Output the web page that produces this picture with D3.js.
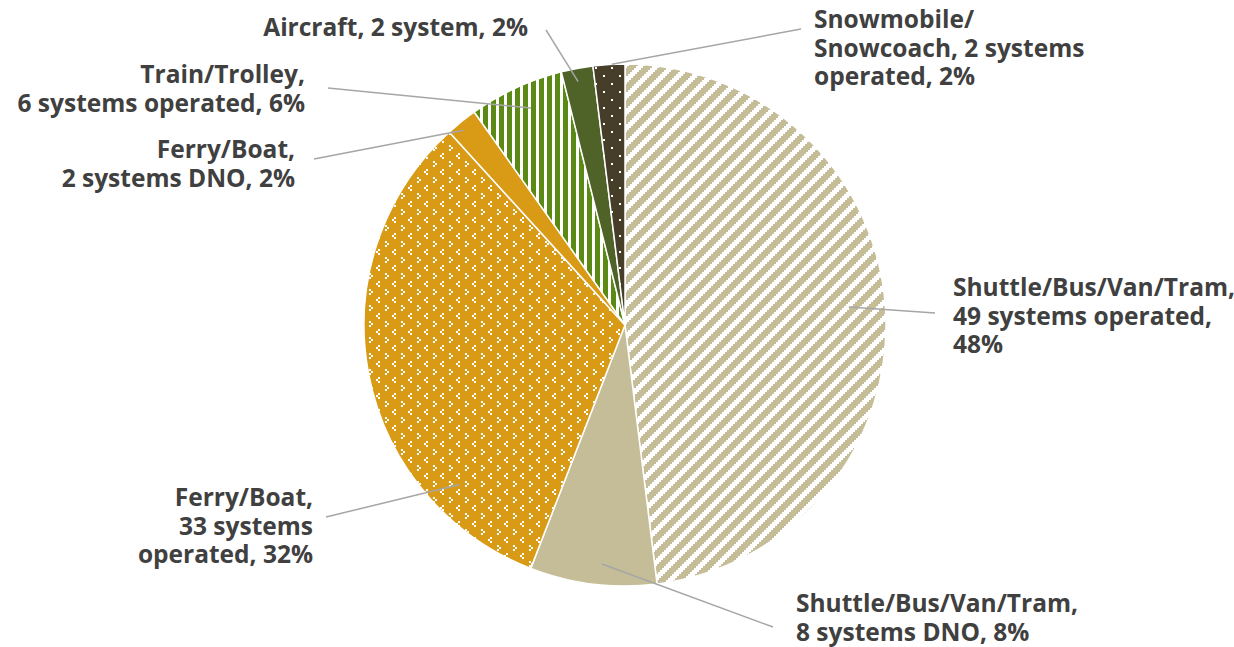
<!DOCTYPE html>
<html>
<head>
<meta charset="utf-8">
<script src="https://cdn.jsdelivr.net/npm/d3@7"></script>
<style>
  html, body { margin: 0; padding: 0; background: #ffffff; }
  svg { display: block; }
  .label { font-family: "Open Sans", "Noto Sans", sans-serif; font-weight: 700; font-size: 24.5px; fill: #404040; }
</style>
</head>
<body>
<svg id="chart" width="1234" height="647"></svg>
<script>
// Transportation systems by mode and operating status
const categories = ["Shuttle/Bus/Van/Tram", "Shuttle/Bus/Van/Tram", "Ferry/Boat", "Ferry/Boat",
                    "Train/Trolley", "Aircraft", "Snowmobile/Snowcoach"];
const statuses   = ["systems operated", "systems DNO", "systems operated", "systems DNO",
                    "systems operated", "system", "systems operated"];
const systems    = [49, 8, 33, 2, 6, 2, 2];

// Fill for each slice (pattern ids defined below)
const fills = ["url(#diag)", "#C4BD97", "url(#divot)", "#D99A16", "url(#vstripe)", "#4F6228", "url(#dots)"];

// Label placement: words per line, anchor, first baseline, leader outer end,
// and the leader's inner end in polar form (degrees clockwise from 12 o'clock, fraction of radius)
const labelLayout = [
  { lines: [4, 3, 1], x: 953, y: 296, anchor: "start", lx: 935, ly: 313, ang: 85.4,  rf: 0.86 },
  { lines: [4, 4],    x: 796, y: 612, anchor: "start", lx: 773, ly: 627, ang: 185.5, rf: 0.92 },
  { lines: [2, 2, 2], x: 313, y: 506, anchor: "end",   lx: 326, ly: 517, ang: 226,   rf: 0.88 },
  { lines: [2, 4],    x: 295, y: 158, anchor: "end",   lx: 314, ly: 159, ang: 320.3, rf: 0.97 },
  { lines: [2, 4],    x: 305, y: 83,  anchor: "end",   lx: 328, ly: 88,  ang: 336.6, rf: 0.906 },
  { lines: [4],       x: 528, y: 36,  anchor: "end",   lx: 546, ly: 30,  ang: 349.1, rf: 0.95 },
  { lines: [1, 3, 2], x: 814, y: 28,  anchor: "start", lx: 801, ly: 29,  ang: 357.1, rf: 1.0 }
];

const cx = 625, cy = 325, R = 261, lineHeight = 28.5;

const svg = d3.select("#chart");
const defs = svg.append("defs");

// Wide upward diagonal stripes on tan (stepped, 2px rows)
const diag = defs.append("pattern").attr("id", "diag").attr("patternUnits", "userSpaceOnUse")
  .attr("width", 16).attr("height", 16);
diag.append("rect").attr("width", 16).attr("height", 16).attr("fill", "#C4BD97");
d3.range(8).forEach(r => {
  const x0 = ((7 - r) * 2 + 16) % 16;
  [x0, x0 - 16].forEach(x => diag.append("rect").attr("x", x).attr("y", r * 2)
    .attr("width", 7).attr("height", 2).attr("fill", "#ffffff"));
});

// Divot marks on orange
const divot = defs.append("pattern").attr("id", "divot").attr("patternUnits", "userSpaceOnUse")
  .attr("width", 16).attr("height", 16);
divot.append("rect").attr("width", 16).attr("height", 16).attr("fill", "#D99A16");
[[1, 1], [3, 3], [1, 5], [10, 9], [8, 11], [10, 13]].forEach(([x, y]) =>
  divot.append("rect").attr("x", x).attr("y", y).attr("width", 2).attr("height", 2).attr("fill", "#ffffff"));

// Vertical stripes on green
const vstripe = defs.append("pattern").attr("id", "vstripe").attr("patternUnits", "userSpaceOnUse")
  .attr("width", 8).attr("height", 8);
vstripe.append("rect").attr("width", 8).attr("height", 8).attr("fill", "#5A8914");
vstripe.append("rect").attr("x", 0).attr("width", 3).attr("height", 8).attr("fill", "#ffffff");

// Small dots on dark brown
const dots = defs.append("pattern").attr("id", "dots").attr("patternUnits", "userSpaceOnUse")
  .attr("width", 16).attr("height", 16);
dots.append("rect").attr("width", 16).attr("height", 16).attr("fill", "#463E29");
[[3, 3], [11, 11]].forEach(([x, y]) =>
  dots.append("rect").attr("x", x).attr("y", y).attr("width", 2).attr("height", 2).attr("fill", "#ffffff"));

const total = d3.sum(systems);
const data = systems.map((n, i) => ({
  n, cat: categories[i], status: statuses[i], fill: fills[i], layout: labelLayout[i],
  pct: Math.round(n / total * 100)
}));

const pie = d3.pie().sort(null).value(d => d.n);
const arc = d3.arc().innerRadius(0).outerRadius(R);
const arcs = pie(data);

const g = svg.append("g").attr("transform", `translate(${cx},${cy})`);

g.selectAll("path.slice").data(arcs).join("path")
  .attr("class", "slice")
  .attr("d", arc)
  .attr("fill", d => d.data.fill)
  .attr("stroke", "#ffffff")
  .attr("stroke-width", 1.5)
  .attr("stroke-linejoin", "round");

// Pattern tiles should align to the page, so offset them by the group translation
["diag", "divot", "vstripe", "dots"].forEach(id =>
  defs.select("#" + id).attr("patternTransform", `translate(${-cx},${-cy})`));

// Leader lines
const leaders = svg.append("g");
arcs.forEach(a => {
  const L = a.data.layout;
  const t = L.ang * Math.PI / 180;
  const ix = cx + Math.sin(t) * R * L.rf;
  const iy = cy - Math.cos(t) * R * L.rf;
  leaders.append("line")
    .attr("x1", L.lx).attr("y1", L.ly).attr("x2", ix).attr("y2", iy)
    .attr("stroke", "#A6A6A6").attr("stroke-width", 1.5);
});

// Split a label into words, breaking after spaces and slashes
function tokenize(s) {
  const out = [];
  const re = /([^ \/]*\/|[^ \/]+)( ?)/g;
  let m;
  while ((m = re.exec(s)) && m[0].length) out.push({ t: m[1], sep: m[2] });
  return out;
}

const labels = svg.append("g");
arcs.forEach(a => {
  const d = a.data, L = d.layout;
  const full = `${d.cat}, ${d.n} ${d.status}, ${d.pct}%`;
  const toks = tokenize(full);
  let k = 0;
  const text = labels.append("text").attr("class", "label")
    .attr("text-anchor", L.anchor);
  L.lines.forEach((count, li) => {
    const str = toks.slice(k, k + count).map(w => w.t + w.sep).join("").trim();
    k += count;
    text.append("tspan").attr("x", L.x).attr("y", L.y + li * lineHeight).text(str);
  });
});
</script>
</body>
</html>
